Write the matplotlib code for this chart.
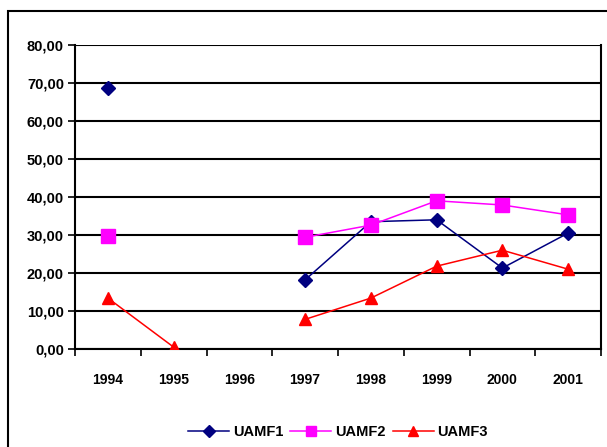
import matplotlib.pyplot as plt
import numpy as np
from matplotlib.patches import Rectangle

years = ["1994", "1995", "1996", "1997", "1998", "1999", "2000", "2001"]
uamf1 = [68.8, np.nan, np.nan, 18.2, 33.5, 34.0, 21.3, 30.5]
uamf2 = [29.7, np.nan, np.nan, 29.4, 32.6, 39.0, 37.9, 35.3]
uamf3 = [13.4, 0.5, np.nan, 7.8, 13.4, 21.8, 26.0, 21.0]
y_ticks = [0, 10, 20, 30, 40, 50, 60, 70, 80]

plt.rcParams["font.family"] = ["Liberation Sans", "DejaVu Sans"]
plt.rcParams["font.weight"] = "bold"

W, H = 607, 447
fig = plt.figure(figsize=(W / 100, H / 100), dpi=100)
ax = fig.add_axes([75 / W, 1 - 349 / H, (601 - 75) / W, (349 - 45) / H])

# outer chart border (cropped at right and bottom)
fig.patches.append(Rectangle((8 / W, -0.05), 1.1, 1 - 11 / H + 0.05,
                             transform=fig.transFigure, fill=False,
                             edgecolor="black", lw=1.5, clip_on=False))

x = np.arange(len(years)) + 0.5
ax.plot(x, uamf1, color="#000080", lw=1.1, marker="D", ms=7.5,
        label="UAMF1", zorder=3)
ax.plot(x, uamf2, color="#FF00FF", lw=1.1, marker="s", ms=10,
        label="UAMF2", zorder=3)
ax.plot(x, uamf3, color="#FF0000", lw=1.1, marker="^", ms=9,
        label="UAMF3", zorder=3)

ax.set_xlim(0, len(years))
ax.set_ylim(0, 80)
ax.set_yticks(y_ticks)
ax.set_yticklabels([f"{v:.2f}".replace(".", ",") for v in y_ticks])
ax.yaxis.grid(True, color="black", lw=1.5)
ax.set_axisbelow(True)

ax.set_xticks(np.arange(len(years) + 1))
ax.set_xticklabels([])
ax.set_xticks(x, minor=True)
ax.set_xticklabels(years, minor=True)
ax.tick_params(axis="x", which="minor", length=0, pad=17)
ax.tick_params(axis="x", which="major", length=5, width=1.2, direction="out")
ax.tick_params(axis="y", length=5, width=1.2, direction="out", pad=3)
ax.tick_params(labelsize=10.5)

for s in ["left", "bottom", "right"]:
    ax.spines[s].set_linewidth(1.5)
ax.spines["top"].set_visible(False)

fig.legend(loc="center", bbox_to_anchor=(338 / W, 1 - 432 / H), ncol=3,
           frameon=False, fontsize=10.5, handlelength=2.8, columnspacing=0.5,
           handletextpad=0.25, markerscale=0.75)

fig.savefig("out.png", dpi=100)
